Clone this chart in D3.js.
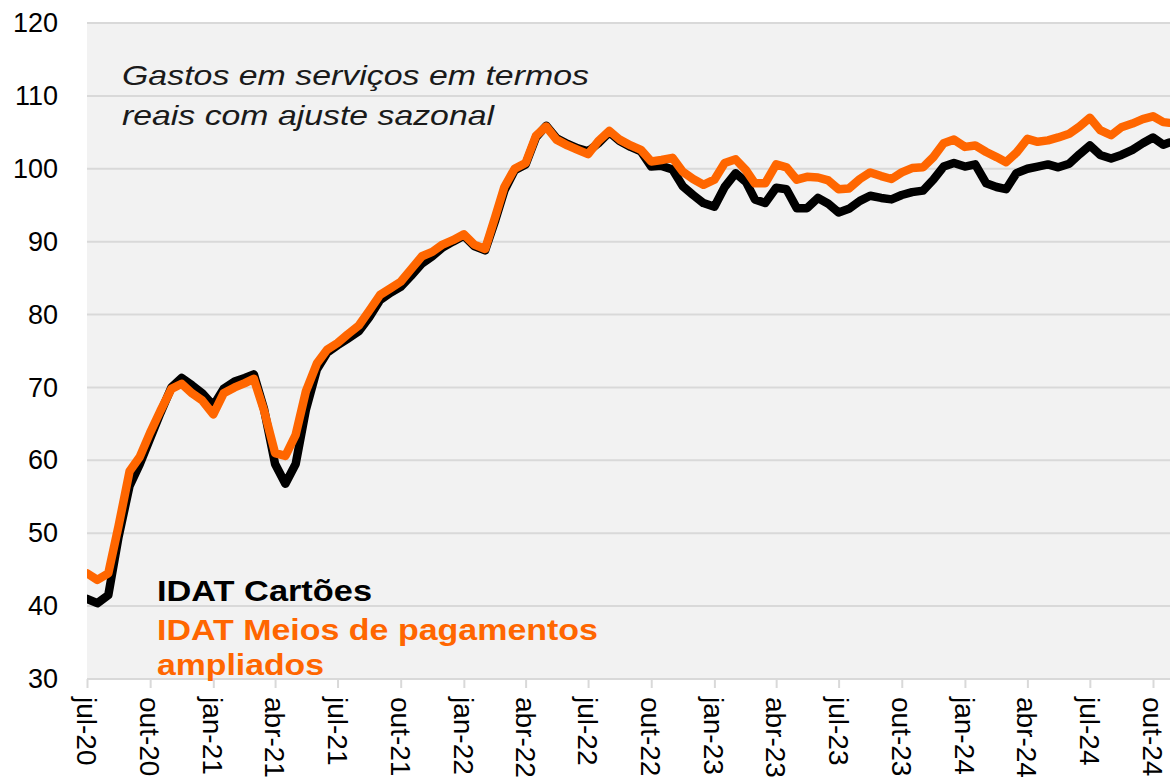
<!DOCTYPE html>
<html>
<head>
<meta charset="utf-8">
<script src="https://cdn.jsdelivr.net/npm/d3@7"></script>
<style>
  body { margin: 0; background: #fff; }
  text { font-family: "Liberation Sans", Arial, sans-serif; }
</style>
</head>
<body>
<div id="chart"></div>
<script>
const dates = [
  "2020-07-01","2020-07-16","2020-08-01","2020-08-16","2020-09-01","2020-09-16",
  "2020-10-01","2020-10-16","2020-11-01","2020-11-16","2020-12-01","2020-12-16",
  "2021-01-01","2021-01-16","2021-02-01","2021-02-16","2021-03-01","2021-03-16",
  "2021-04-01","2021-04-16","2021-05-01","2021-05-16","2021-06-01","2021-06-16",
  "2021-07-01","2021-07-16","2021-08-01","2021-08-16","2021-09-01","2021-09-16",
  "2021-10-01","2021-10-16","2021-11-01","2021-11-16","2021-12-01","2021-12-16",
  "2022-01-01","2022-01-16","2022-02-01","2022-02-16","2022-03-01","2022-03-16",
  "2022-04-01","2022-04-16","2022-05-01","2022-05-16","2022-06-01","2022-06-16",
  "2022-07-01","2022-07-16","2022-08-01","2022-08-16","2022-09-01","2022-09-16",
  "2022-10-01","2022-10-16","2022-11-01","2022-11-16","2022-12-01","2022-12-16",
  "2023-01-01","2023-01-16","2023-02-01","2023-02-16","2023-03-01","2023-03-16",
  "2023-04-01","2023-04-16","2023-05-01","2023-05-16","2023-06-01","2023-06-16",
  "2023-07-01","2023-07-16","2023-08-01","2023-08-16","2023-09-01","2023-09-16",
  "2023-10-01","2023-10-16","2023-11-01","2023-11-16","2023-12-01","2023-12-16",
  "2024-01-01","2024-01-16","2024-02-01","2024-02-16","2024-03-01","2024-03-16",
  "2024-04-01","2024-04-16","2024-05-01","2024-05-16","2024-06-01","2024-06-16",
  "2024-07-01","2024-07-16","2024-08-01","2024-08-16","2024-09-01","2024-09-16",
  "2024-10-01","2024-10-16","2024-10-25"
];

const cartoes = [
  41.0,40.4,41.5,49.5,56.5,59.5,63.0,66.5,70.0,71.3,70.3,69.2,
  67.5,69.8,70.8,71.3,71.8,67.0,59.5,56.8,59.5,67.0,72.5,74.8,
  75.8,76.7,77.7,79.6,82.0,83.0,83.8,85.3,87.0,88.0,89.2,90.0,
  90.8,89.4,88.8,93.0,97.0,99.8,100.6,104.3,105.9,104.2,103.4,102.8,
  102.4,103.5,105.0,103.8,103.0,102.4,100.3,100.4,99.9,97.6,96.4,95.3,
  94.8,97.5,99.4,98.2,95.8,95.3,97.4,97.2,94.6,94.6,96.0,95.2,
  94.0,94.5,95.6,96.3,96.0,95.8,96.4,96.8,97.0,98.5,100.3,100.8,
  100.3,100.6,98.0,97.5,97.2,99.4,100.0,100.3,100.6,100.2,100.7,102.0,
  103.2,101.9,101.4,101.9,102.6,103.5,104.3,103.3,103.6
];

const meiosAmpliados = [
  44.5,43.6,44.5,51.0,58.5,60.5,63.8,66.8,69.8,70.5,69.2,68.2,
  66.3,69.2,70.0,70.6,71.2,66.8,61.0,60.6,63.5,69.5,73.3,75.2,
  76.1,77.3,78.5,80.5,82.7,83.6,84.5,86.2,88.0,88.6,89.6,90.2,
  91.0,89.6,89.0,93.5,97.5,100.0,100.8,104.5,105.8,104.0,103.2,102.6,
  102.0,103.8,105.2,104.0,103.2,102.6,101.0,101.2,101.5,99.6,98.6,97.8,
  98.5,100.8,101.3,99.8,98.0,98.0,100.6,100.2,98.5,98.9,98.8,98.4,
  97.2,97.3,98.6,99.5,99.0,98.6,99.5,100.1,100.2,101.6,103.5,104.0,
  103.0,103.2,102.3,101.6,100.9,102.2,104.1,103.7,103.9,104.3,104.8,105.8,
  107.0,105.3,104.6,105.7,106.2,106.8,107.2,106.4,106.3
];

const tickDates = [
  "2020-07-01","2020-10-01","2021-01-01","2021-04-01","2021-07-01","2021-10-01",
  "2022-01-01","2022-04-01","2022-07-01","2022-10-01","2023-01-01","2023-04-01",
  "2023-07-01","2023-10-01","2024-01-01","2024-04-01","2024-07-01","2024-10-01"
];
const tickLabels = [
  "jul-20","out-20","jan-21","abr-21","jul-21","out-21",
  "jan-22","abr-22","jul-22","out-22","jan-23","abr-23",
  "jul-23","out-23","jan-24","abr-24","jul-24","out-24"
];
const yTicks = [30, 40, 50, 60, 70, 80, 90, 100, 110, 120];

const width = 1170, height = 782;
const margin = {left: 87, top: 23, bottom: 679, right: 1170};
const parse = d3.utcParse("%Y-%m-%d");
const orange = "#ff6600";

let svg = d3.select("#chart").append("svg")
    .attr("width", width)
    .attr("height", height);

let x = d3.scaleUtc()
    .domain([parse("2020-07-01"), parse("2024-10-01")])
    .range([margin.left, 1153]);
let y = d3.scaleLinear().domain([30, 120]).range([margin.bottom, margin.top]);

//plot background
svg.append("rect")
    .attr("x", margin.left).attr("y", margin.top)
    .attr("width", margin.right - margin.left).attr("height", margin.bottom - margin.top)
    .attr("fill", "#f2f2f2");

//horizontal gridlines
svg.append("g").selectAll("line")
    .data(yTicks)
    .join("line")
    .attr("x1", margin.left).attr("x2", margin.right)
    .attr("y1", d => y(d)).attr("y2", d => y(d))
    .attr("stroke", "#d9d9d9")
    .attr("stroke-width", 2);

//y axis labels
let yAxis = svg.append("g")
    .attr("transform", `translate(58,0)`)
    .call(d3.axisLeft(y).tickValues(yTicks).tickSize(0).tickPadding(0));
yAxis.select(".domain").remove();
yAxis.selectAll("text")
    .attr("font-size", 27)
    .attr("fill", "#000")
    .style("font-family", "'Liberation Sans', Arial, sans-serif");

//x axis
let xAxis = svg.append("g")
    .attr("transform", `translate(0,${margin.bottom})`)
    .call(d3.axisBottom(x)
        .tickValues(tickDates.map(parse))
        .tickFormat((d, i) => tickLabels[i])
        .tickSize(9));
xAxis.select(".domain")
    .attr("d", `M${margin.left},0H${margin.right}`)
    .attr("stroke", "#d9d9d9")
    .attr("stroke-width", 2);
xAxis.selectAll(".tick line")
    .attr("stroke", "#d9d9d9")
    .attr("stroke-width", 2);
xAxis.selectAll(".tick text")
    .attr("font-size", 28)
    .attr("fill", "#000")
    .style("font-family", "'Liberation Sans', Arial, sans-serif")
    .attr("text-anchor", "start")
    .attr("dominant-baseline", "central")
    .attr("dy", null)
    .attr("y", 0)
    .attr("transform", "translate(-1,18) rotate(90)");

//series
let series = [
    {name: "IDAT Cartões", values: cartoes, color: "#000"},
    {name: "IDAT Meios de pagamentos ampliados", values: meiosAmpliados, color: orange}
];

let line = d3.line()
    .x((d, i) => x(parse(dates[i])))
    .y(d => y(d));

svg.append("clipPath").attr("id", "clip")
    .append("rect").attr("x", margin.left).attr("y", 0)
    .attr("width", margin.right - margin.left).attr("height", margin.bottom);

svg.append("g").attr("clip-path", "url(#clip)")
    .selectAll("path")
    .data(series)
    .join("path")
    .attr("d", d => line(d.values))
    .attr("fill", "none")
    .attr("stroke", d => d.color)
    .attr("stroke-width", 8.5)
    .attr("stroke-linejoin", "round")
    .attr("stroke-linecap", "round");

//note text
let note = svg.append("text")
    .attr("font-size", 28)
    .attr("font-style", "italic")
    .attr("fill", "#1a1a1a");
note.append("tspan").attr("x", 122).attr("y", 85)
    .attr("textLength", 467).attr("lengthAdjust", "spacingAndGlyphs")
    .text("Gastos em serviços em termos");
note.append("tspan").attr("x", 122).attr("y", 125)
    .attr("textLength", 372).attr("lengthAdjust", "spacingAndGlyphs")
    .text("reais com ajuste sazonal");

//legend
svg.append("text")
    .attr("x", 157).attr("y", 601)
    .attr("font-size", 29).attr("font-weight", "bold").attr("fill", "#000")
    .attr("textLength", 215).attr("lengthAdjust", "spacingAndGlyphs")
    .text("IDAT Cartões");
let leg2 = svg.append("text")
    .attr("font-size", 29).attr("font-weight", "bold").attr("fill", orange);
leg2.append("tspan").attr("x", 157).attr("y", 640)
    .attr("textLength", 441).attr("lengthAdjust", "spacingAndGlyphs")
    .text("IDAT Meios de pagamentos");
leg2.append("tspan").attr("x", 157).attr("y", 675)
    .attr("textLength", 167).attr("lengthAdjust", "spacingAndGlyphs")
    .text("ampliados");
</script>
</body>
</html>
